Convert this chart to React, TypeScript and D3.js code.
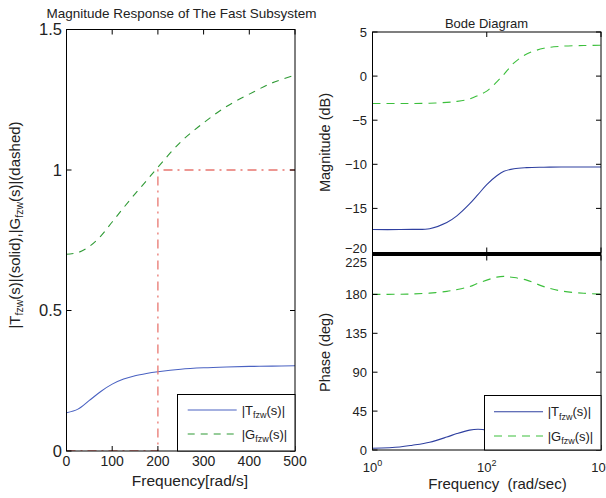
import React from "react";
import * as d3 from "d3";

const W = 606;
const H = 498;
const FONT = "'Liberation Sans', Arial, Helvetica, sans-serif";

// ---- Left plot data (linear frequency) ----
const leftFreq = [0, 25, 50, 75, 100, 125, 150, 175, 200, 250, 300, 350, 400, 450, 500];
const leftT = [0.136, 0.149, 0.18, 0.212, 0.238, 0.256, 0.268, 0.276, 0.282, 0.291, 0.296, 0.299, 0.301, 0.302, 0.3035];
const leftG = [0.7, 0.706, 0.728, 0.765, 0.815, 0.866, 0.915, 0.962, 1.01, 1.1, 1.168, 1.226, 1.27, 1.31, 1.338];
const refX = [0, 200, 200, 500];
const refY = [0, 0, 1, 1];
const leftXTicks = [0, 100, 200, 300, 400, 500];
const leftYTicks = [0, 0.5, 1, 1.5];
const leftYTickLabels = ["0", "0.5", "1", "1.5"];

// ---- Bode data ----
const bodeFreq = [1, 3, 5, 10, 20, 30, 50, 70, 100, 150, 200, 300, 500, 1000, 2000, 5000, 10000];
const magT = [-17.4, -17.4, -17.38, -17.3, -16.6, -15.85, -14.5, -13.45, -12.3, -11.3, -10.8, -10.5, -10.38, -10.33, -10.3, -10.3, -10.3];
const magG = [-3.1, -3.1, -3.1, -3.08, -2.98, -2.87, -2.6, -2.2, -1.7, -0.65, 0.2, 1.5, 2.5, 3.15, 3.38, 3.47, 3.5];
const phaseT = [2, 3.5, 5.5, 9, 15, 19, 23, 24, 23, 19.5, 16.5, 12, 7.5, 4, 2, 1, 0.5];
const phaseG = [180, 180.2, 180.5, 181.5, 183.5, 185.5, 189, 193, 196.5, 200, 200.8, 199.5, 196.5, 189, 184, 181.3, 180.3];
const bodeXTicks = [1, 100, 10000];
const bodeXExp = ["0", "2", "4"];
const magYTicks = [-20, -15, -10, -5, 0, 5];
const phaseYTicks = [0, 45, 90, 135, 180, 225];

const BLUE_L = "#4a62c2";
const BLUE_R = "#2f40a0";
const GREEN_L = "#2f9a35";
const GREEN_R = "#3cbf3c";
const RED = "#e8766f";

const fmtMinus = (v: number) => (v < 0 ? "\u2212" + Math.abs(v) : String(v));

export default function App() {
  // scales
  const lx = d3.scaleLinear().domain([0, 500]).range([66.5, 295]);
  const ly = d3.scaleLinear().domain([0, 1.5]).range([451, 29.5]);
  const bx = d3.scaleLog().domain([1, 10000]).range([372.5, 601]);
  const my = d3.scaleLinear().domain([-20, 5]).range([252.5, 32]);
  const py = d3.scaleLinear().domain([0, 225]).range([450, 255.5]);

  const curve = d3.curveCatmullRom.alpha(0.5);
  const lineL = (ys: number[]) =>
    d3
      .line<number>()
      .x((_, i) => lx(leftFreq[i]))
      .y((d) => ly(d))
      .curve(curve)(ys) || "";
  const refPath =
    d3
      .line<number>()
      .x((_, i) => lx(refX[i]))
      .y((d) => ly(d))(refY) || "";
  const lineB = (ys: number[], yS: d3.ScaleLinear<number, number>) =>
    d3
      .line<number>()
      .x((_, i) => bx(bodeFreq[i]))
      .y((d) => yS(d))
      .curve(curve)(ys) || "";

  const L = { x0: lx(0), x1: lx(500), y0: ly(1.5), y1: ly(0) };
  const M = { x0: bx(1), x1: bx(10000), y0: my(5), y1: my(-20) };
  const P = { x0: bx(1), x1: bx(10000), y0: py(225), y1: py(0) };
  const TL = 5;

  const sub = (main1: string, s: string, main2: string, size: number, subSize: number, shift: number) => [
    <tspan key="a">{main1}</tspan>,
    <tspan key="b" fontSize={subSize} dy={shift}>
      {s}
    </tspan>,
    <tspan key="c" fontSize={size} dy={-shift}>
      {main2}
    </tspan>,
  ];

  return (
    <svg
      width={W}
      height={H}
      style={{ position: "absolute", left: 0, top: 0, background: "#fff" }}
      fontFamily={FONT}
    >
      <defs>
        <clipPath id="clipL">
          <rect x={L.x0} y={L.y0} width={L.x1 - L.x0} height={L.y1 - L.y0} />
        </clipPath>
        <clipPath id="clipM">
          <rect x={M.x0} y={M.y0} width={M.x1 - M.x0} height={M.y1 - M.y0} />
        </clipPath>
        <clipPath id="clipP">
          <rect x={P.x0} y={P.y0} width={P.x1 - P.x0} height={P.y1 - P.y0} />
        </clipPath>
      </defs>
      <rect x={0} y={0} width={W} height={H} fill="#fff" />

      {/* ===== Left plot ===== */}
      <text x={181.5} y={18} fontSize={13.5} textAnchor="middle" fill="#222">
        Magnitude Response of The Fast Subsystem
      </text>
      <g clipPath="url(#clipL)">
        <path d={lineL(leftG)} fill="none" stroke={GREEN_L} strokeWidth={1.1} strokeDasharray="7,6" />
        <path d={lineL(leftT)} fill="none" stroke={BLUE_L} strokeWidth={1.1} />
        <path d={refPath} fill="none" stroke={RED} strokeWidth={1.3} strokeDasharray="9,5,2,5" />
      </g>
      <rect x={L.x0} y={L.y0} width={L.x1 - L.x0} height={L.y1 - L.y0} fill="none" stroke="#000" strokeWidth={1} />
      {leftXTicks.map((t) => (
        <g key={"lxt" + t}>
          <line x1={lx(t)} x2={lx(t)} y1={L.y1} y2={L.y1 - TL} stroke="#000" />
          <line x1={lx(t)} x2={lx(t)} y1={L.y0} y2={L.y0 + TL} stroke="#000" />
          <text x={lx(t)} y={465.5} fontSize={14} textAnchor="middle" fill="#222">
            {t}
          </text>
        </g>
      ))}
      {leftYTicks.map((t, i) => (
        <g key={"lyt" + t}>
          <line x1={L.x0} x2={L.x0 + TL} y1={ly(t)} y2={ly(t)} stroke="#000" />
          <line x1={L.x1} x2={L.x1 - TL} y1={ly(t)} y2={ly(t)} stroke="#000" />
          <text x={62} y={ly(t)} dy="0.36em" fontSize={16.5} textAnchor="end" fill="#222">
            {leftYTickLabels[i]}
          </text>
        </g>
      ))}
      <text x={190} y={486} fontSize={15.5} textAnchor="middle" fill="#222">
        Frequency[rad/s]
      </text>
      <text transform="translate(20,225) rotate(-90)" fontSize={15} textAnchor="middle" fill="#222">
        <tspan>|T</tspan>
        <tspan fontSize={10.5} dy={3}>fzw</tspan>
        <tspan fontSize={15} dy={-3}>(s)|(solid),|G</tspan>
        <tspan fontSize={10.5} dy={3}>fzw</tspan>
        <tspan fontSize={15} dy={-3}>(s)|(dashed)</tspan>
      </text>
      {/* left legend */}
      <rect x={177.5} y={394.5} width={L.x1 - 177.5} height={L.y1 - 394.5} fill="#fff" stroke="#000" strokeWidth={1} />
      <line x1={187.7} x2={236.7} y1={410} y2={410} stroke={BLUE_L} strokeWidth={1.1} />
      <line x1={187.7} x2={236.7} y1={434} y2={434} stroke={GREEN_L} strokeWidth={1.1} strokeDasharray="7,6" />
      <text x={241.7} y={414.5} fontSize={13} fill="#222">
        {sub("|T", "fzw", "(s)|", 13, 9, 3.5)}
      </text>
      <text x={241.7} y={438.5} fontSize={13} fill="#222">
        {sub("|G", "fzw", "(s)|", 13, 9, 3.5)}
      </text>

      {/* ===== Right: Magnitude ===== */}
      <text x={486.5} y={27.5} fontSize={13} textAnchor="middle" fill="#222">
        Bode Diagram
      </text>
      <g clipPath="url(#clipM)">
        <path d={lineB(magG, my)} fill="none" stroke={GREEN_R} strokeWidth={1.1} strokeDasharray="8,6" />
        <path d={lineB(magT, my)} fill="none" stroke={BLUE_R} strokeWidth={1.1} />
      </g>
      <rect x={M.x0} y={M.y0} width={M.x1 - M.x0} height={M.y1 - M.y0} fill="none" stroke="#000" strokeWidth={1} />
      {magYTicks.map((t) => (
        <g key={"myt" + t}>
          <line x1={M.x0} x2={M.x0 + TL} y1={my(t)} y2={my(t)} stroke="#000" />
          <line x1={M.x1} x2={M.x1 - TL} y1={my(t)} y2={my(t)} stroke="#000" />
          <text x={367} y={my(t) + (t === -20 ? -4 : 0)} dy="0.36em" fontSize={13} textAnchor="end" fill="#222">
            {fmtMinus(t)}
          </text>
        </g>
      ))}
      {bodeXTicks.map((t) => (
        <g key={"mxt" + t}>
          <line x1={bx(t)} x2={bx(t)} y1={M.y0} y2={M.y0 + TL} stroke="#000" />
          <line x1={bx(t)} x2={bx(t)} y1={M.y1} y2={M.y1 - TL} stroke="#000" />
        </g>
      ))}
      <text transform="translate(330,142.5) rotate(-90)" fontSize={14.5} textAnchor="middle" fill="#222">
        Magnitude (dB)
      </text>

      {/* ===== Right: Phase ===== */}
      <g clipPath="url(#clipP)">
        <path d={lineB(phaseG, py)} fill="none" stroke={GREEN_R} strokeWidth={1.1} strokeDasharray="8,6" />
        <path d={lineB(phaseT, py)} fill="none" stroke={BLUE_R} strokeWidth={1.1} />
      </g>
      <rect x={P.x0} y={P.y0} width={P.x1 - P.x0} height={P.y1 - P.y0} fill="none" stroke="#000" strokeWidth={1} />
      <line x1={M.x0 - 0.5} x2={M.x1 + 0.5} y1={254} y2={254} stroke="#000" strokeWidth={2.5} />
      {phaseYTicks.map((t) => (
        <g key={"pyt" + t}>
          <line x1={P.x0} x2={P.x0 + TL} y1={py(t)} y2={py(t)} stroke="#000" />
          <line x1={P.x1} x2={P.x1 - TL} y1={py(t)} y2={py(t)} stroke="#000" />
          <text x={367} y={py(t) + (t === 225 ? 7 : 0)} dy="0.36em" fontSize={13} textAnchor="end" fill="#222">
            {t}
          </text>
        </g>
      ))}
      {bodeXTicks.map((t, i) => (
        <g key={"pxt" + t}>
          <line x1={bx(t)} x2={bx(t)} y1={P.y1} y2={P.y1 - TL} stroke="#000" />
          <line x1={bx(t)} x2={bx(t)} y1={P.y0} y2={P.y0 + TL} stroke="#000" />
          <text x={bx(t)} y={471.5} fontSize={13} textAnchor="middle" fill="#222">
            <tspan>10</tspan>
            <tspan fontSize={9} dy={-6}>
              {bodeXExp[i]}
            </tspan>
          </text>
        </g>
      ))}
      <text transform="translate(330,352.5) rotate(-90)" fontSize={14.5} textAnchor="middle" fill="#222">
        Phase (deg)
      </text>
      <text x={497.5} y={488.5} fontSize={15} textAnchor="middle" fill="#222" style={{ whiteSpace: "pre" }}>
        {"Frequency  (rad/sec)"}
      </text>
      {/* right legend */}
      <rect x={484.5} y={395.5} width={P.x1 - 484.5} height={P.y1 - 395.5} fill="#fff" stroke="#000" strokeWidth={1} />
      <line x1={494} x2={543} y1={411.7} y2={411.7} stroke={BLUE_R} strokeWidth={1.1} />
      <line x1={494} x2={543} y1={436} y2={436} stroke={GREEN_R} strokeWidth={1.1} strokeDasharray="8,6" />
      <text x={547.7} y={416.2} fontSize={13} fill="#222">
        {sub("|T", "fzw", "(s)|", 13, 9, 3.5)}
      </text>
      <text x={547.7} y={440.5} fontSize={13} fill="#222">
        {sub("|G", "fzw", "(s)|", 13, 9, 3.5)}
      </text>
    </svg>
  );
}
